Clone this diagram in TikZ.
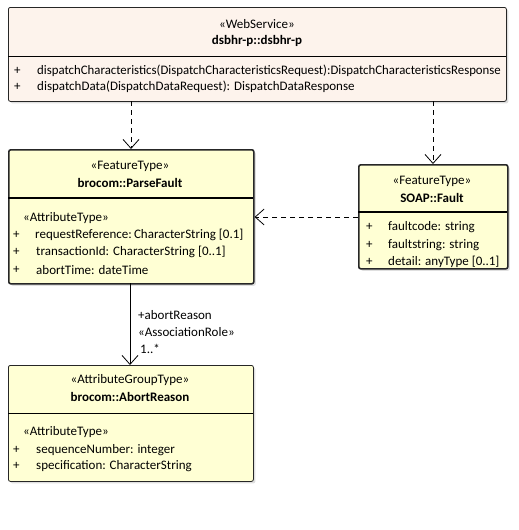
\documentclass[tikz,border=0pt]{standalone}
\usepackage{fontspec}
\setmainfont{Carlito}
\usetikzlibrary{arrows.meta,shadows}
\definecolor{wsfill}{RGB}{253,243,236}
\definecolor{ftfill}{RGB}{255,255,204}
\definecolor{ftbody}{RGB}{255,255,212}
\begin{document}
\begin{tikzpicture}[x=1pt,y=-1pt,
  font=\fontsize{13}{15}\selectfont,
  umlbox/.style={draw=black!85, rounded corners=2pt, anchor=north west, inner sep=0pt,
     drop shadow={opacity=0.25, shadow xshift=2pt, shadow yshift=-2pt}},
  thickbox/.style={umlbox, line width=1.6pt},
  thinbox/.style={umlbox, line width=0.8pt},
  txt/.style={anchor=west, inner sep=0pt},
  ctxt/.style={anchor=center, inner sep=0pt},
  dep/.style={dashed, dash pattern=on 5pt off 4pt, line width=0.8pt, -{Straight Barb[length=9pt,width=16pt,line width=0.8pt]}},
  assoc/.style={line width=0.8pt, -{Straight Barb[length=9pt,width=16pt,line width=0.8pt]}}
]
\useasboundingbox (0,0) rectangle (519,530);

% WebService
\node[thinbox, fill=wsfill, minimum width=498pt, minimum height=94pt] (ws) at (8,7) {};
\draw[line width=0.8pt] (8,56) -- (506,56);
\node[ctxt] (wsst) at (257,24) {«WebService»};
\node[ctxt] (wsname) at (257,41) {\bfseries dsbhr-p::dsbhr-p};
\node[txt] (wsp1) at (14,71) {+};
\node[txt] (wso1) at (37,71) {\scalebox{0.985}[1]{dispatchCharacteristics(DispatchCharacteristicsRequest):DispatchCharacteristicsResponse}};
\node[txt] (wsp2) at (14,87) {+};
\node[txt] (wso2) at (37,87) {dispatchData(DispatchDataRequest): DispatchDataResponse};

% ParseFault
\node[thickbox, fill=ftbody, minimum width=245pt, minimum height=134pt] (pf) at (8,149) {};
\draw[line width=1.6pt] (8,198) -- (253,198);
\node[ctxt] (pfst) at (130,166) {«FeatureType»};
\node[ctxt] (pfname) at (130,183) {\bfseries brocom::ParseFault};
\node[txt] (pfat) at (23,218) {«AttributeType»};
\node[txt] (pfp1) at (13,235) {+};
\node[txt] (pfa1) at (35,235) {requestReference:\,CharacterString [0.1]};
\node[txt] (pfp2) at (13,252) {+};
\node[txt] (pfa2) at (36,252) {transactionId: CharacterString [0..1]};
\node[txt] (pfp3) at (13,270) {+};
\node[txt] (pfa3) at (36,270) {abortTime: dateTime};

% SOAP::Fault
\node[thickbox, fill=ftbody, minimum width=149pt, minimum height=104pt] (sf) at (358,164) {};
\draw[line width=1.6pt] (358,212) -- (507,212);
\node[ctxt] (sfst) at (432,181) {«FeatureType»};
\node[ctxt] (sfname) at (432,198) {\bfseries SOAP::Fault};
\node[txt] (sfp1) at (366,227) {+};
\node[txt] (sfa1) at (388,227) {faultcode: string};
\node[txt] (sfp2) at (366,245) {+};
\node[txt] (sfa2) at (388,245) {faultstring: string};
\node[txt] (sfp3) at (366,262) {+};
\node[txt] (sfa3) at (388,262) {detail: anyType [0..1]};

% AbortReason
\node[thinbox, fill=ftbody, minimum width=245pt, minimum height=116pt] (ar) at (8,365) {};
\draw[line width=0.8pt] (8,413) -- (253,413);
\node[ctxt] (arst) at (130,380) {«AttributeGroupType»};
\node[ctxt] (arname) at (130,397) {\bfseries brocom::AbortReason};
\node[txt] (arat) at (23,432) {«AttributeType»};
\node[txt] (arp1) at (13,450) {+};
\node[txt] (ara1) at (36,450) {sequenceNumber: integer};
\node[txt] (arp2) at (13,466) {+};
\node[txt] (ara2) at (36,466) {specification: CharacterString};

% connectors
\coordinate (c1) at (131,101);
\coordinate (c2) at (433,101);
\draw[dep] (c1) -- (c1 |- pf.north);
\draw[dep] (c2) -- (c2 |- sf.north);
\draw[dep] (sf.west |- 0,217) -- (pf.east |- 0,217);
\draw[assoc] (130,283) -- (130,365);
\node[txt] (l1) at (138,315) {+abortReason};
\node[txt] (l2) at (138,332) {«AssociationRole»};
\node[txt] (l3) at (140,349) {1..*};
\end{tikzpicture}
\end{document}
